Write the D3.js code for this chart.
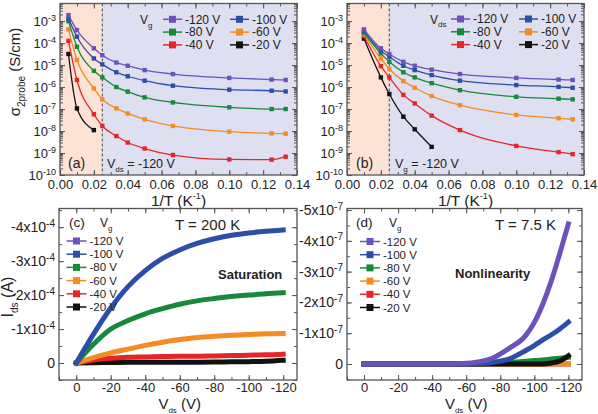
<!DOCTYPE html>
<html>
<head>
<meta charset="utf-8">
<script src="https://cdn.jsdelivr.net/npm/d3@7"></script>
<style>
body{margin:0;background:#fff}
svg{font-family:"Liberation Sans",Arial,sans-serif}
</style>
</head>
<body>
<svg id="fig" width="598" height="414"></svg>
<script>
//series names (gate or drain voltage) and their colours
var series = ["-120 V","-100 V","-80 V","-60 V","-40 V","-20 V"];
var colors = ["#6b52bd","#2c4ea9","#17893b","#f28c23","#e52628","#111111"];

//(a) conductivity vs 1/T at Vds=-120 V, one array per Vg
var invTA = [0.005,0.01,0.02,0.025,0.0333,0.04,0.05,0.0667,0.1,0.125,0.1333];
var sigmaA = [
  [1.86e-3,3.9e-4,5.8e-5,2.8e-5,1.3e-5,9.3e-6,5.9e-6,3.9e-6,2.6e-6,2.2e-6,2.1e-6],
  [1.3e-3,1.95e-4,2.0e-5,1.07e-5,4.7e-6,3.1e-6,1.95e-6,1.15e-6,7.6e-7,6.8e-7,6.3e-7],
  [1.0e-3,6.8e-5,5.5e-6,2.75e-6,1.0e-6,6.2e-7,3.4e-7,2.0e-7,1.2e-7,1.0e-7,1.0e-7],
  [4.2e-4,1.7e-5,8.7e-7,2.8e-7,1.07e-7,6.3e-8,3.4e-8,1.7e-8,9.3e-9,7.8e-9,7.6e-9],
  [1.26e-4,2.1e-6,5.8e-8,1.7e-8,5.9e-9,3.0e-9,1.6e-9,8.1e-10,5.1e-10,5.0e-10,6.8e-10],
  [3.2e-5,1.07e-7,1.1e-8]
];

//(b) conductivity vs 1/T at Vg=-120 V, one array per Vds
var invTB = [0.01,0.02,0.025,0.0333,0.04,0.05,0.0667,0.1,0.125,0.1333];
var sigmaB = [
  [4.2e-4,5.8e-5,3.2e-5,1.4e-5,9.3e-6,6.2e-6,3.9e-6,2.6e-6,2.2e-6,2.1e-6],
  [3.6e-4,4.5e-5,2.4e-5,9.3e-6,5.9e-6,3.5e-6,1.95e-6,1.23e-6,1.02e-6,9.3e-7],
  [2.95e-4,3.4e-5,1.4e-5,4.7e-6,2.75e-6,1.5e-6,7.2e-7,3.6e-7,2.95e-7,2.75e-7],
  [2.5e-4,2.0e-5,6.6e-6,1.86e-6,9.3e-7,3.9e-7,1.5e-7,5.4e-8,3.8e-8,3.4e-8],
  [2.1e-4,8.9e-6,2.75e-6,4.4e-7,1.8e-7,5.0e-8,1.1e-8,2.1e-9,1.1e-9,8.9e-10],
  [1.6e-4,2.75e-6,4.8e-7,4.5e-8,1.2e-8,1.9e-9]
];

//(c) output curves at T = 200 K (A)
var vdsC = [0,-10,-20,-30,-40,-50,-60,-70,-80,-90,-100,-110,-120];
var idsC = [
  null,
  [0,-0.85e-4,-1.62e-4,-2.25e-4,-2.72e-4,-3.08e-4,-3.33e-4,-3.52e-4,-3.66e-4,-3.76e-4,-3.83e-4,-3.88e-4,-3.92e-4],
  [0,-0.55e-4,-1.0e-4,-1.25e-4,-1.45e-4,-1.6e-4,-1.73e-4,-1.83e-4,-1.9e-4,-1.96e-4,-2.0e-4,-2.04e-4,-2.07e-4],
  [0,-0.16e-4,-0.3e-4,-0.41e-4,-0.52e-4,-0.61e-4,-0.69e-4,-0.75e-4,-0.79e-4,-0.82e-4,-0.84e-4,-0.86e-4,-0.87e-4],
  [0,-0.09e-4,-0.14e-4,-0.17e-4,-0.18e-4,-0.19e-4,-0.2e-4,-0.2e-4,-0.21e-4,-0.22e-4,-0.23e-4,-0.24e-4,-0.26e-4],
  [0,-0.01e-4,-0.015e-4,-0.02e-4,-0.02e-4,-0.02e-4,-0.02e-4,-0.025e-4,-0.03e-4,-0.035e-4,-0.04e-4,-0.05e-4,-0.08e-4]
];

//(d) output curves at T = 7.5 K (A)
var vdsD = [0,-20,-40,-55,-65,-75,-85,-95,-100,-105,-110,-115,-120];
var idsD = [
  [0,0,0,-0.01e-7,-0.05e-7,-0.18e-7,-0.5e-7,-0.93e-7,-1.35e-7,-1.95e-7,-2.7e-7,-3.6e-7,-4.55e-7],
  [0,0,0,0,-0.01e-7,-0.05e-7,-0.16e-7,-0.44e-7,-0.6e-7,-0.78e-7,-0.95e-7,-1.14e-7,-1.36e-7],
  [0,0,0,0,0,-0.02e-7,-0.05e-7,-0.09e-7,-0.11e-7,-0.13e-7,-0.16e-7,-0.19e-7,-0.22e-7],
  [0,0,0,0,0,0,0,0,0,0,-0.005e-7,-0.005e-7,-0.005e-7],
  [0,0,0,0,0,0,0,0,0,0,0,0,0],
  [0,0,0,0,0,0,0,0,0,0,-0.03e-7,-0.1e-7,-0.27e-7]
];

//tick values
var logTicks = [1e-10,1e-9,1e-8,1e-7,1e-6,1e-5,1e-4,1e-3];
var invTTicks = [0,0.02,0.04,0.06,0.08,0.10,0.12,0.14];
var vdsTicks = [0,-20,-40,-60,-80,-100,-120];
var idsCTicks = [0,-1e-4,-2e-4,-3e-4,-4e-4];
var idsDTicks = [0,-1e-7,-2e-7,-3e-7,-4e-7,-5e-7];

var svg = d3.select("#fig");

//scales for the four panels
var xa = d3.scaleLinear().domain([0,0.14]).range([60,297]);
var ya = d3.scaleLog().domain([1e-10,Math.pow(10,-2.2)]).range([175,3.5]);
var xb = d3.scaleLinear().domain([0,0.14]).range([347,584]);
var yb = d3.scaleLog().domain([1e-10,Math.pow(10,-2.2)]).range([175,3.5]);
var xc = d3.scaleLinear().domain([10,-128]).range([59,297]);
var yc = d3.scaleLinear().domain([0.5e-4,-4.55e-4]).range([380,208.5]);
var xd = d3.scaleLinear().domain([10,-128]).range([347,582]);
var yd = d3.scaleLinear().domain([0.52e-7,-5.05e-7]).range([380,208.5]);

//minor tick lists
var minorInvT = d3.range(0,0.1401,0.01);
var minorLog = [];
logTicks.forEach(function(t){ if(t<1e-2) for(var k=2;k<10;k++){ if(t*k<Math.pow(10,-2.2)) minorLog.push(t*k);} });
var minorVds = d3.range(10,-129,-10);

//draws the frame and inward ticks on all sides
function frame(xs, ys, xt, xm, yt, ym, pad) {
  var x0 = xs.range()[0], x1 = xs.range()[1];
  var yB = ys.range()[0], yT = ys.range()[1];
  var g = svg.append("g").attr("class","axes");
  g.append("g").attr("class","xb").attr("transform","translate(0,"+yB+")")
    .call(d3.axisBottom(xs).tickValues(xt).tickSizeInner(-5).tickSizeOuter(0).tickPadding(pad));
  g.append("g").attr("transform","translate(0,"+yB+")")
    .call(d3.axisBottom(xs).tickValues(xm).tickSize(-3).tickFormat(""));
  g.append("g").attr("transform","translate(0,"+yT+")")
    .call(d3.axisTop(xs).tickValues(xt).tickSize(-5).tickFormat(""));
  g.append("g").attr("transform","translate(0,"+yT+")")
    .call(d3.axisTop(xs).tickValues(xm).tickSize(-3).tickFormat(""));
  g.append("g").attr("class","yl").attr("transform","translate("+x0+",0)")
    .call(d3.axisLeft(ys).tickValues(yt).tickSizeInner(-5).tickSizeOuter(0).tickPadding(4));
  g.append("g").attr("transform","translate("+x0+",0)")
    .call(d3.axisLeft(ys).tickValues(ym).tickSize(-3).tickFormat(""));
  g.append("g").attr("transform","translate("+x1+",0)")
    .call(d3.axisRight(ys).tickValues(yt).tickSize(-5).tickFormat(""));
  g.append("g").attr("transform","translate("+x1+",0)")
    .call(d3.axisRight(ys).tickValues(ym).tickSize(-3).tickFormat(""));
  g.selectAll(".domain").remove();
  g.selectAll(".tick line").attr("stroke","#555").attr("stroke-width",1);
  g.selectAll(".tick text").attr("fill","#222").attr("font-size","13px")
    .attr("font-family","Liberation Sans, Arial, sans-serif");
  g.append("rect").attr("x",x0).attr("y",yT).attr("width",x1-x0).attr("height",yB-yT)
    .attr("fill","none").attr("stroke","#555").attr("stroke-width",1.3);
  return g;
}

//shaded background and dashed line for (a) and (b)
function shade(xs, ys) {
  var yB = ys.range()[0], yT = ys.range()[1];
  svg.append("rect").attr("x",xs(0)).attr("y",yT).attr("width",xs(0.025)-xs(0)).attr("height",yB-yT)
    .attr("fill","#fce3d5");
  svg.append("rect").attr("x",xs(0.025)).attr("y",yT).attr("width",xs(0.14)-xs(0.025)).attr("height",yB-yT)
    .attr("fill","#dfdff2");
  svg.append("line").attr("x1",xs(0.025)).attr("x2",xs(0.025)).attr("y1",yT).attr("y2",yB)
    .attr("stroke","#555").attr("stroke-width",1.1).attr("stroke-dasharray","3,2");
}

function logLabels(g) {
  g.select(".yl").selectAll(".tick text").text(null).each(function(d){
    var t = d3.select(this);
    t.append("tspan").text("10");
    t.append("tspan").attr("dy","-0.55em").attr("font-size","9px").text(Math.round(Math.log10(d)));
  });
}
function xLabelsInvT(g) {
  g.select(".xb").selectAll(".tick text").text(function(d){ return d3.format(".2f")(d); });
}
function xLabelsVds(g) {
  g.select(".xb").selectAll(".tick text").text(function(d){ return d===0 ? "0" : "-"+(-d); });
}
function sciLabels(g, e) {
  g.select(".yl").selectAll(".tick text").attr("font-size","14px").text(null).each(function(d){
    var t = d3.select(this);
    if (d === 0) { t.text("0"); return; }
    t.append("tspan").text("-"+Math.round(-d/Math.pow(10,e))+"x10");
    t.append("tspan").attr("dy","-0.55em").attr("font-size","10px").text(e);
  });
}

//text helper with optional sub/superscripts: parts = [[text,"sub"|"sup"|null,size]]
function rich(x, y, parts, size, opts) {
  opts = opts || {};
  var t = svg.append("text").attr("x",x).attr("y",y).attr("font-size",size+"px").attr("fill","#222");
  if (opts.anchor) t.attr("text-anchor",opts.anchor);
  if (opts.weight) t.attr("font-weight",opts.weight);
  if (opts.rotate) t.attr("transform","rotate(-90,"+x+","+y+")");
  var shift = 0;
  parts.forEach(function(p){
    var s = t.append("tspan").text(p[0]);
    var dy = 0;
    if (p[1]==="sub") dy = (opts.sub || 0.33)*size;
    if (p[1]==="sup") dy = -0.45*size;
    s.attr("dy", (dy-shift)+"px");
    shift = dy;
    if (p[1]) s.attr("font-size",(p[2]||Math.round(size*0.62))+"px");
  });
  return t;
}

//conductivity panels
function sigmaPanel(xs, ys, invT, sig) {
  shade(xs, ys);
  var line = d3.line().x(function(d){ return xs(d[0]); }).y(function(d){ return ys(d[1]); })
    .curve(d3.curveMonotoneX);
  var order = [5,4,3,2,1,0];
  order.forEach(function(i){
    var pts = sig[i].map(function(v,j){ return [invT[j], v]; });
    svg.append("path").datum(pts).attr("d",line).attr("fill","none")
      .attr("stroke",colors[i]).attr("stroke-width",1.3);
    svg.selectAll(null).data(pts).enter().append("rect")
      .attr("x",function(d){ return xs(d[0])-2.2; }).attr("y",function(d){ return ys(d[1])-2.2; })
      .attr("width",4.4).attr("height",4.4).attr("fill",colors[i]);
  });
}

sigmaPanel(xa, ya, invTA, sigmaA);
sigmaPanel(xb, yb, invTB, sigmaB);
var ga = frame(xa, ya, invTTicks, minorInvT, logTicks, minorLog, 5);
logLabels(ga); xLabelsInvT(ga);
var gb = frame(xb, yb, invTTicks, minorInvT, logTicks, minorLog, 5);
logLabels(gb); xLabelsInvT(gb);

//legends of (a) and (b): two columns, three rows
function legend2(xh, hdr, xl1, xl2, y0) {
  rich(xh, y0+4.5, hdr, 12);
  series.forEach(function(s,i){
    var col = i%2, row = Math.floor(i/2);
    var lx = col===0 ? xl1 : xl2, ly = y0 + row*12.8;
    svg.append("line").attr("x1",lx).attr("x2",lx+19).attr("y1",ly).attr("y2",ly)
      .attr("stroke",colors[i]).attr("stroke-width",1.5);
    svg.append("rect").attr("x",lx+9.5-3.5).attr("y",ly-3.5).attr("width",7).attr("height",7).attr("fill",colors[i]);
    svg.append("text").attr("x",lx+22).attr("y",ly+4.2).attr("font-size","12px").attr("fill","#222").text(s);
  });
}
legend2(140, [["V",null],["g","sub",8]], 163, 230, 19.3);
legend2(430, [["V",null],["ds","sub",8]], 451, 519, 19);

rich(68, 168, [["(a)",null]], 14);
rich(107, 168, [["V",null],["ds","sub",8],[" = -120 V",null]], 12.5);
rich(356, 168, [["(b)",null]], 14);
rich(395, 168, [["V",null],["g","sub",8],[" = -120 V",null]], 12.5);

//axis titles of the top row
rich(xa(0.07), 206, [["1/T (K",null],["-1","sup",9],[")",null]], 15.5, {anchor:"middle"});
rich(xb(0.07), 206, [["1/T (K",null],["-1","sup",9],[")",null]], 15.5, {anchor:"middle"});
rich(20, 72, [["\u03c3",null],["2probe","sub",10],[" (S/cm)",null]], 15, {anchor:"middle", rotate:true});

//output curve panels
function idsPanel(xs, ys, vds, ids, order) {
  var line = d3.line().x(function(d){ return xs(d[0]); }).y(function(d){ return ys(d[1]); })
    .curve(d3.curveMonotoneX);
  order.forEach(function(i){
    if (!ids[i]) return;
    var pts = ids[i].map(function(v,j){ return [vds[j], v]; });
    svg.append("path").datum(pts).attr("d",line).attr("fill","none")
      .attr("stroke",colors[i]).attr("stroke-width",5).attr("stroke-linecap","square");
  });
}
idsPanel(xc, yc, vdsC, idsC, [5,4,3,2,1,0]);
idsPanel(xd, yd, vdsD, idsD, [4,3,2,5,1,0]);
var gc = frame(xc, yc, vdsTicks, minorVds, idsCTicks, d3.range(0.5e-4,-4.6e-4,-0.5e-4), 3);
sciLabels(gc, -4); xLabelsVds(gc);
var gd = frame(xd, yd, vdsTicks, minorVds, idsDTicks, d3.range(0.5e-7,-5.1e-7,-0.5e-7), 3);
sciLabels(gd, -7); xLabelsVds(gd);

//vertical legends of (c) and (d)
function legend1(xl, y0) {
  series.forEach(function(s,i){
    var ly = y0 + i*13.2;
    svg.append("line").attr("x1",xl).attr("x2",xl+20).attr("y1",ly).attr("y2",ly)
      .attr("stroke",colors[i]).attr("stroke-width",1.5);
    svg.append("rect").attr("x",xl+10-3.5).attr("y",ly-3.5).attr("width",7).attr("height",7).attr("fill",colors[i]);
    svg.append("text").attr("x",xl+23).attr("y",ly+4).attr("font-size","11.5px").attr("fill","#222").text(s);
  });
}
legend1(66.5, 241);
legend1(360, 241.5);

rich(69, 227, [["(c)",null]], 13.5);
rich(100, 227, [["V",null],["g","sub",8]], 12);
rich(175, 230, [["T = 200 K",null]], 15);
rich(218, 279, [["Saturation",null]], 13, {weight:"bold"});
rich(356, 227, [["(d)",null]], 13.5);
rich(389, 227, [["V",null],["g","sub",8]], 12);
rich(495, 230, [["T = 7.5 K",null]], 15);
rich(455, 278, [["Nonlinearity",null]], 13, {weight:"bold"});

rich(xc(-60), 409, [["V",null],["ds","sub",8],[" (V)",null]], 15, {anchor:"middle", sub:0.26});
rich(xd(-60), 409, [["V",null],["ds","sub",8],[" (V)",null]], 15, {anchor:"middle", sub:0.26});
rich(13, 297, [["I",null],["ds","sub",10],[" (A)",null]], 16, {anchor:"middle", rotate:true});
</script>
</body>
</html>
